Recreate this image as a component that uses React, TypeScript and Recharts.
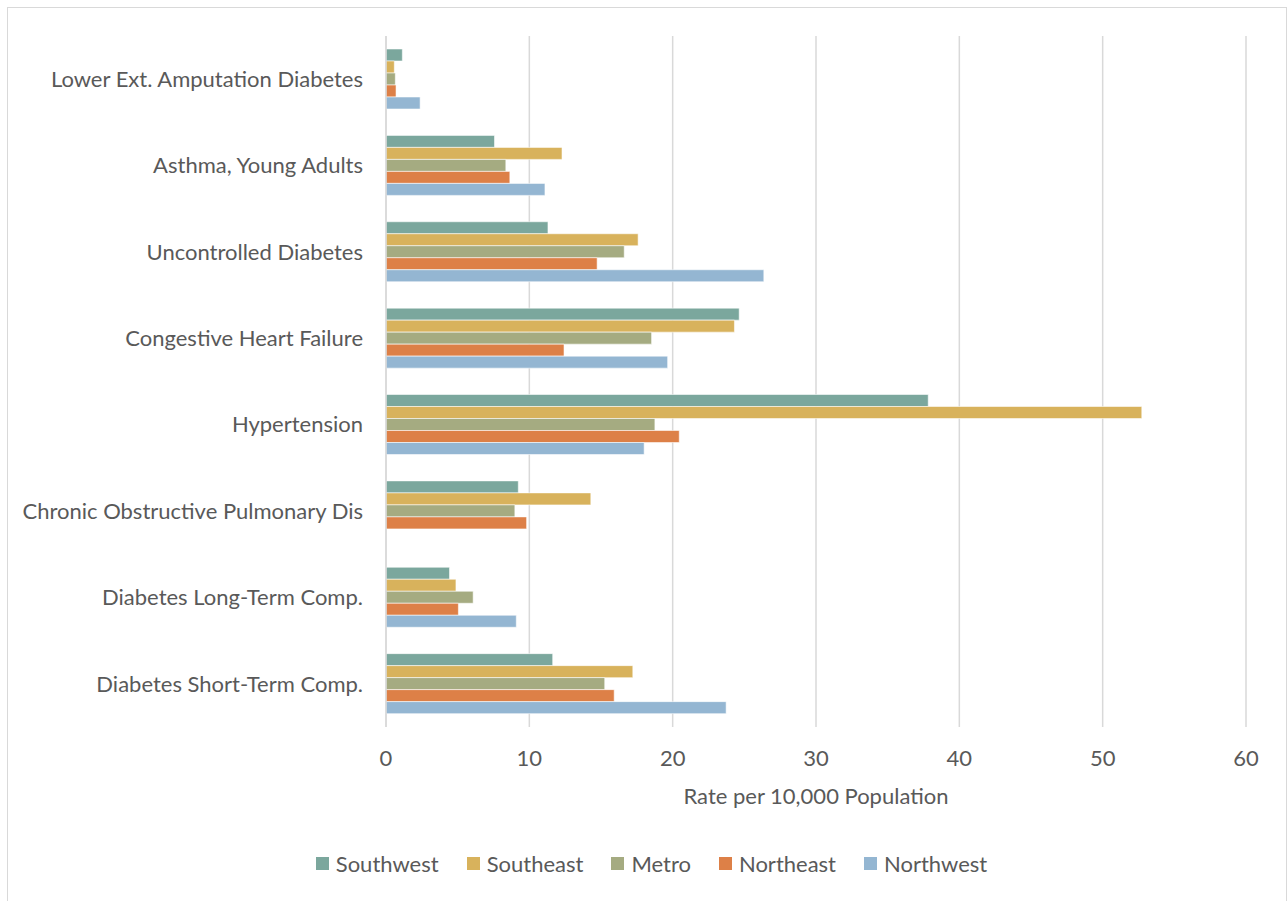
import React from 'react';
import { BarChart, Bar, XAxis, YAxis, CartesianGrid, Legend } from 'recharts';

const categories = [
  'Lower Ext. Amputation Diabetes',
  'Asthma, Young Adults',
  'Uncontrolled Diabetes',
  'Congestive Heart Failure',
  'Hypertension',
  'Chronic Obstructive Pulmonary Dis',
  'Diabetes Long-Term Comp.',
  'Diabetes Short-Term Comp.',
];

const southwest = [1.14, 7.57, 11.3, 24.64, 37.83, 9.23, 4.43, 11.63];
const southeast = [0.58, 12.28, 17.59, 24.31, 52.73, 14.29, 4.88, 17.22];
const metro = [0.65, 8.36, 16.62, 18.53, 18.76, 8.99, 6.08, 15.26];
const northeast = [0.7, 8.64, 14.73, 12.42, 20.46, 9.81, 5.05, 15.92];
const northwest: (number | null)[] = [2.38, 11.09, 26.36, 19.65, 18.01, null, 9.09, 23.73];

const xTicks = [0, 10, 20, 30, 40, 50, 60];

const seriesNames = ['Southwest', 'Southeast', 'Metro', 'Northeast', 'Northwest'];
const seriesKeys = ['southwest', 'southeast', 'metro', 'northeast', 'northwest'];
const seriesColors = ['#7BA79D', '#D8B25C', '#A5AB81', '#DD8047', '#94B6D2'];

const data = categories.map((name, i) => ({
  name,
  southwest: southwest[i],
  southeast: southeast[i],
  metro: metro[i],
  northeast: northeast[i],
  northwest: northwest[i],
}));

const FONT = 'Lato, "Open Sans", sans-serif';
const TEXT = '#595959';
const FS = 22;

const LegendContent = () => (
  <div
    style={{
      display: 'flex',
      justifyContent: 'center',
      alignItems: 'center',
      paddingLeft: 57,
      fontFamily: FONT,
      fontSize: FS,
      color: TEXT,
      height: 30,
    }}
  >
    {seriesNames.map((n, i) => (
      <div key={n} style={{ display: 'flex', alignItems: 'center', marginRight: i < seriesNames.length - 1 ? 28 : 0 }}>
        <span style={{ display: 'inline-block', width: 13, height: 13, background: seriesColors[i], marginRight: 7 }} />
        <span>{n}</span>
      </div>
    ))}
  </div>
);

export default function App() {
  return (
    <div style={{ position: 'absolute', left: 0, top: 0, width: 1287, height: 901, overflow: 'hidden', background: '#fff' }}>
      <div
        style={{
          position: 'absolute',
          left: 7,
          top: 7,
          width: 1278,
          height: 920,
          border: '1px solid #d9d9d9',
          boxSizing: 'content-box',
        }}
      />
      <div style={{ position: 'absolute', left: 0, top: 0 }}>
        <BarChart
          width={1287}
          height={901}
          data={data}
          layout="vertical"
          margin={{ top: 36, right: 41, left: 0, bottom: 23 }}
          barGap={0}
          barSize={12}
        >
          <CartesianGrid horizontal={false} vertical={true} stroke="#d9d9d9" strokeWidth={1.5} />
          <XAxis
            type="number"
            domain={[0, 60]}
            ticks={xTicks}
            axisLine={false}
            tickLine={false}
            tickSize={0}
            tickMargin={23}
            height={121}
            tick={{ fill: TEXT, fontSize: FS, fontFamily: FONT }}
            label={{
              value: 'Rate per 10,000 Population',
              position: 'insideBottom',
              offset: 44,
              fill: TEXT,
              fontSize: FS,
              fontFamily: FONT,
            }}
          />
          <YAxis
            type="category"
            dataKey="name"
            width={386}
            axisLine={{ stroke: '#d9d9d9', strokeWidth: 1.5 }}
            tickLine={false}
            tickSize={0}
            tickMargin={23}
            interval={0}
            tick={{ fill: TEXT, fontSize: FS, fontFamily: FONT }}
          />
          <Legend verticalAlign="bottom" align="center" content={<LegendContent />} />
          {seriesKeys.map((k, i) => (
            <Bar
              key={k}
              dataKey={k}
              name={seriesNames[i]}
              fill={seriesColors[i]}
              stroke="rgba(255,255,255,0.55)"
              strokeWidth={1}
              isAnimationActive={false}
            />
          ))}
        </BarChart>
      </div>
    </div>
  );
}
